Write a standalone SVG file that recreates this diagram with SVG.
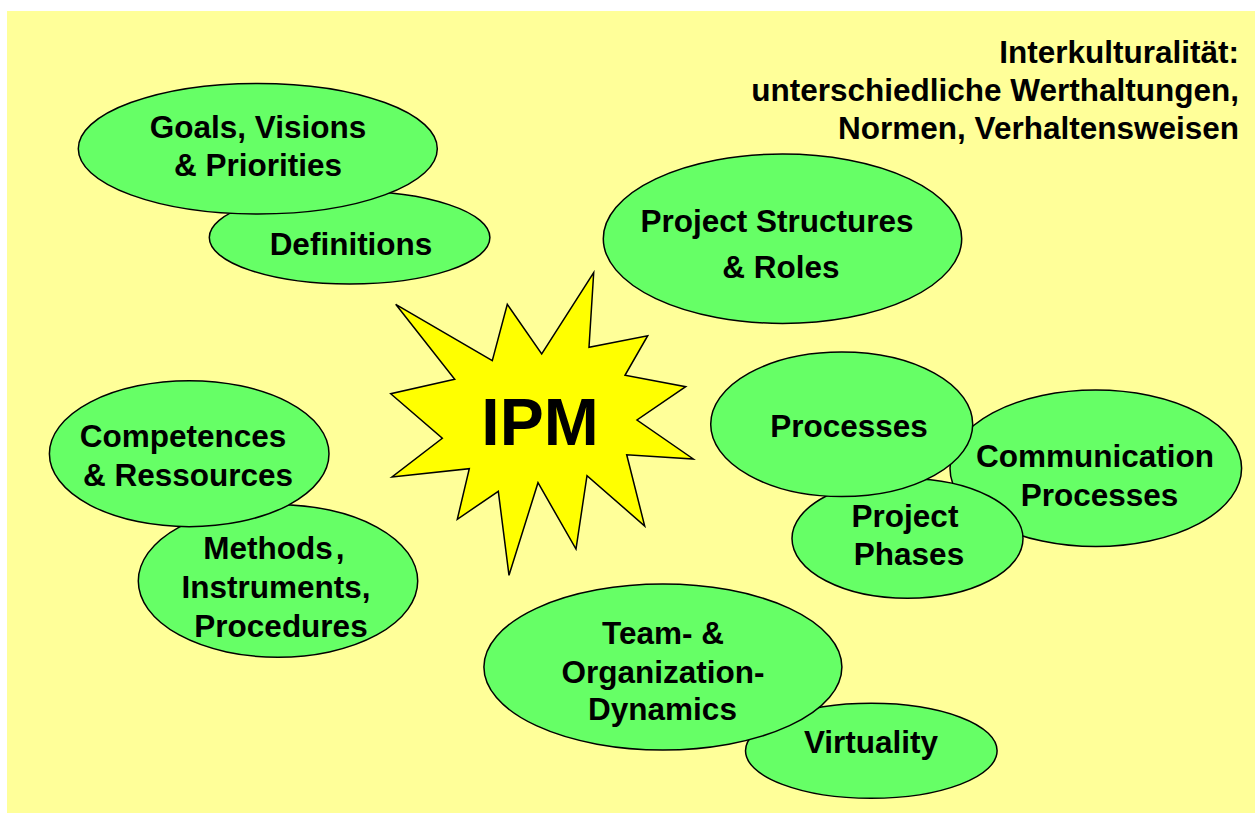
<svg xmlns="http://www.w3.org/2000/svg" width="1255" height="813" viewBox="0 0 1255 813">
  <style>
    .bubble { fill: #66ff66; stroke: #000; stroke-width: 1.5; }
    .label { font-family: "Liberation Sans", Arial, sans-serif; font-weight: bold; font-size: 31.5px; fill: #000; text-anchor: middle; }
    .note { font-family: "Liberation Sans", Arial, sans-serif; font-weight: bold; font-size: 31.5px; fill: #000; text-anchor: end; }
  </style>

  <!-- page background -->
  <rect x="0" y="0" width="1255" height="813" fill="#ffffff"/>
  <rect x="7" y="11" width="1248" height="802" fill="#ffff99"/>

  <!-- heading, top right -->
  <g id="interkulturalitaet">
    <text class="note" x="1239" y="62.5">Interkulturalität:</text>
    <text class="note" x="1239" y="100.5">unterschiedliche Werthaltungen,</text>
    <text class="note" x="1239" y="138.5">Normen, Verhaltensweisen</text>
  </g>

  <g id="definitions">
    <ellipse class="bubble" cx="349.6" cy="237.5" rx="140.3" ry="46.5"/>
    <text class="label" x="351" y="255">Definitions</text>
  </g>

  <g id="goals">
    <ellipse class="bubble" cx="257.8" cy="148.7" rx="179.5" ry="65.3"/>
    <text class="label" x="258" y="138.3">Goals, Visions</text>
    <text class="label" x="258" y="176">&amp; Priorities</text>
  </g>

  <g id="project-structures">
    <ellipse class="bubble" cx="782.5" cy="238.7" rx="179.2" ry="84.7"/>
    <text class="label" x="777" y="231.7">Project Structures</text>
    <text class="label" x="781" y="278.3">&amp; Roles</text>
  </g>

  <g id="methods">
    <ellipse class="bubble" cx="278" cy="581" rx="139.7" ry="76.3"/>
    <text class="label" x="274" y="559.3">Methods<tspan dx="3">,</tspan></text>
    <text class="label" x="276" y="598.3">Instruments,</text>
    <text class="label" x="281" y="636.7">Procedures</text>
  </g>

  <g id="competences">
    <ellipse class="bubble" cx="189.2" cy="453.7" rx="139.8" ry="73"/>
    <text class="label" x="183" y="447.3">Competences</text>
    <text class="label" x="188" y="485.7">&amp; Ressources</text>
  </g>

  <g id="communication-processes">
    <ellipse class="bubble" cx="1095.8" cy="468.3" rx="145.8" ry="78.3"/>
    <text class="label" x="1095" y="467.3">Communication</text>
    <text class="label" x="1099.5" y="506">Processes</text>
  </g>

  <g id="project-phases">
    <ellipse class="bubble" cx="907.5" cy="538.5" rx="115.5" ry="59.8"/>
    <text class="label" x="905" y="526.7">Project</text>
    <text class="label" x="909" y="565">Phases</text>
  </g>

  <g id="processes">
    <ellipse class="bubble" cx="841.7" cy="424.3" rx="131" ry="72.3"/>
    <text class="label" x="849" y="437.3">Processes</text>
  </g>

  <g id="virtuality">
    <ellipse class="bubble" cx="871.3" cy="750.8" rx="125.8" ry="47.5"/>
    <text class="label" x="871" y="752.7">Virtuality</text>
  </g>

  <g id="team-dynamics">
    <ellipse class="bubble" cx="662.9" cy="667" rx="179" ry="83"/>
    <text class="label" x="663" y="644">Team- &amp;</text>
    <text class="label" x="663" y="682.7">Organization-</text>
    <text class="label" x="662.5" y="720">Dynamics</text>
  </g>

  <!-- central burst -->
  <g id="ipm">
    <polygon fill="#ffff00" stroke="#000" stroke-width="1.5" stroke-linejoin="miter"
      points="395.7,304.3 492.3,360.7 507.3,304.3 541.7,354 593.7,272.7 589,347.3 647.7,335.7 625,375.3 685.7,386.7 637,420 693.3,459 626.7,454.7 644.7,526 587,475.7 576,549 538,482.7 509,575.3 498.3,491.3 457.3,519.3 469.3,468.7 392,477 442.3,438.3 390.7,393.7 454.7,379.3"/>
    <text x="540" y="445" font-family="Liberation Sans, Arial, sans-serif" font-weight="bold" font-size="66" text-anchor="middle" fill="#000">IPM</text>
  </g>

  <!-- no connectors in this figure -->
  <g id="connectors"/>
</svg>
